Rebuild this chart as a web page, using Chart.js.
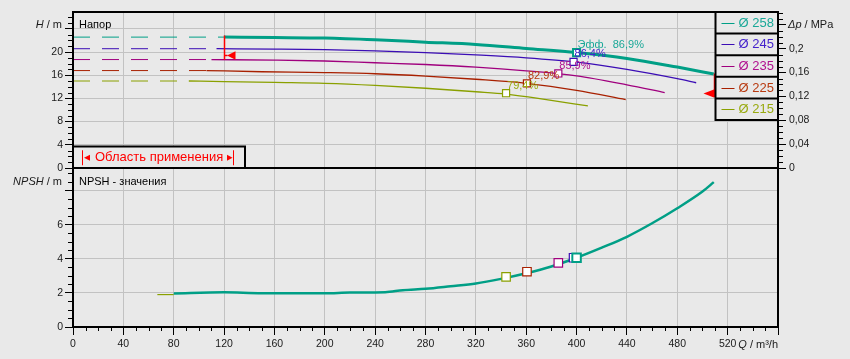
<!DOCTYPE html>
<html><head><meta charset="utf-8">
<script src="https://cdn.jsdelivr.net/npm/chart.js@4/dist/chart.umd.min.js"></script>
<style>
html,body{margin:0;padding:0;background:#e9e9e9;}
#wrap{position:relative;width:850px;height:359px;background:#e9e9e9;overflow:hidden;}
#top{position:absolute;left:0;top:0;}
#bot{position:absolute;left:0;top:168px;}
</style></head><body>
<div id="wrap"><canvas id="top" width="850" height="180"></canvas><canvas id="bot" width="850" height="191"></canvas></div>
<script>
// ---------- DATA ----------
const diameters = ['Ø 258', 'Ø 245', 'Ø 235', 'Ø 225', 'Ø 215'];
const q258 = [120, 160, 200, 240, 280, 320, 360, 400, 440, 480, 509];
const h258 = [22.57, 22.5, 22.4, 22.1, 21.7, 21.3, 20.6, 19.9, 18.9, 17.4, 16.2];
const q245 = [114, 160, 200, 240, 280, 320, 360, 400, 440, 480, 495];
const h245 = [20.57, 20.5, 20.4, 20.2, 19.9, 19.5, 19.0, 18.25, 17.0, 15.4, 14.7];
const q235 = [110, 160, 200, 240, 280, 320, 360, 400, 440, 470];
const h235 = [18.7, 18.6, 18.45, 18.15, 17.85, 17.4, 16.75, 15.9, 14.35, 13.0];
const q225 = [106, 150, 200, 240, 280, 320, 360, 400, 439];
const h225 = [16.8, 16.6, 16.45, 16.25, 15.85, 15.3, 14.6, 13.4, 11.8];
const q215 = [92, 120, 160, 200, 240, 280, 320, 344, 376, 409];
const h215 = [15.0, 14.9, 14.75, 14.6, 14.25, 13.75, 13.15, 12.75, 11.8, 10.7];
const effQ = [400, 397.6, 385.5, 360.6, 344];
const effH = [19.9, 18.3, 16.3, 14.6, 12.9];
const effLabels = ['Эфф.  86,9%', '86,4%', '85,9%', '82,9%', '79,4%'];
const effNpsh = [4.06, 4.06, 3.76, 3.24, 2.94];
const npshQ = [80, 120, 150, 200, 220, 248, 262, 280, 300, 320, 340, 360, 380, 400, 420, 440, 460, 480, 500, 509];
const npshV = [1.97, 2.03, 1.98, 1.98, 2.02, 2.04, 2.16, 2.24, 2.39, 2.55, 2.82, 3.15, 3.55, 4.06, 4.65, 5.29, 6.08, 6.96, 7.94, 8.49];
const npsh215Q = [67, 80];
const npsh215V = [1.9, 1.9];
const rangeQ = [120, 509];
const hTickLabels = [0, 4, 8, 12, 16, 20];
const pTickLabels = ['0', '0,04', '0,08', '0,12', '0,16', '0,2'];
const npshTickLabels = [0, 2, 4, 6];
const qTickLabels = [0, 40, 80, 120, 160, 200, 240, 280, 320, 360, 400, 440, 480, 520];

// ---------- STYLE ----------
const F = '"Liberation Sans", Arial, sans-serif';
const BG = '#e9e9e9';
const GRID = '#c2c2c2';
const TXT = '#1a1a1a';
const TS = 10.5;
const colors = ['#009f86', '#3b0db5', '#a0007e', '#a82000', '#8aa000'];
const textColors = ['#1aa898', '#4422cc', '#b0108f', '#b83a10', '#99aa10'];
const H_MAX = 26.9, P_MAX = 0.2615, N_MAX = 9.32, Q_MAX = 560;

function pts(qs, vs) { return qs.map((q, i) => ({ x: q, y: vs[i] })); }

function mixed(ctx, parts, x, y, align, size, color) {
  ctx.save(); ctx.fillStyle = color; ctx.textBaseline = 'middle'; ctx.textAlign = 'left';
  const widths = parts.map(p => { ctx.font = (p[1] ? 'italic ' : '') + size + 'px ' + F; return ctx.measureText(p[0]).width; });
  const total = widths.reduce((a, b) => a + b, 0);
  let cx = align === 'right' ? x - total : x;
  parts.forEach((p, i) => { ctx.font = (p[1] ? 'italic ' : '') + size + 'px ' + F; ctx.fillText(p[0], cx, y); cx += widths[i]; });
  ctx.restore();
}

function minorTicks(ctx, scale, step, majorEvery, len, side) {
  const n = Math.floor((scale.max - scale.min) / step + 1e-6);
  ctx.save(); ctx.strokeStyle = '#000'; ctx.lineWidth = 1; ctx.beginPath();
  for (let i = 0; i <= n; i++) {
    if (i % majorEvery === 0) continue;
    const p = Math.round(scale.getPixelForValue(scale.min + i * step)) + 0.5;
    if (side === 'left') { ctx.moveTo(scale.right - len, p); ctx.lineTo(scale.right, p); }
    else if (side === 'right') { ctx.moveTo(scale.left, p); ctx.lineTo(scale.left + len, p); }
    else { ctx.moveTo(p, scale.top); ctx.lineTo(p, scale.top + len); }
  }
  ctx.stroke(); ctx.restore();
}

function frame(chart) {
  const a = chart.chartArea, ctx = chart.ctx;
  ctx.save(); ctx.strokeStyle = '#000'; ctx.lineWidth = 2;
  ctx.strokeRect(a.left, a.top, a.right - a.left, a.bottom - a.top);
  ctx.restore();
}

function tri(ctx, tipX, y, baseX, hh) {
  ctx.beginPath(); ctx.moveTo(tipX, y); ctx.lineTo(baseX, y - hh); ctx.lineTo(baseX, y + hh); ctx.closePath(); ctx.fill();
}

function fixW(w) { return s => { s.width = w; s.paddingTop = 0; s.paddingBottom = 0; s.paddingLeft = 0; s.paddingRight = 0; }; }
function fixH(h) { return s => { s.height = h; s.paddingTop = 0; s.paddingBottom = 0; s.paddingLeft = 0; s.paddingRight = 0; }; }

// ---------- TOP CHART ----------
const series = [
  { q: q258, h: h258, w: 3 },
  { q: q245, h: h245, w: 1.3 },
  { q: q235, h: h235, w: 1.3 },
  { q: q225, h: h225, w: 1.3 },
  { q: q215, h: h215, w: 1.3 }
];
const topSets = [];
effQ.forEach((q, i) => topSets.push({
  xAxisID: 'x', yAxisID: 'yH',
  data: [{ x: q, y: effH[i] }], pointStyle: 'rect', pointRadius: 5, pointHoverRadius: 5,
  borderColor: colors[i], backgroundColor: '#ffffff', borderWidth: i === 0 ? 2 : 1.2, showLine: false
}));
series.forEach((s, i) => {
  topSets.push({ xAxisID: 'x', yAxisID: 'yH', data: pts(s.q, s.h), borderColor: colors[i], borderWidth: s.w, showLine: true, pointRadius: 0, cubicInterpolationMode: 'monotone', fill: false });
  topSets.push({ xAxisID: 'x', yAxisID: 'yH', data: [{ x: 0, y: s.h[0] }, { x: s.q[0], y: s.h[0] }], borderColor: colors[i], borderWidth: 1, borderDash: [17, 12], showLine: true, pointRadius: 0, fill: false });
});

const topPlugin = {
  id: 'topDeco',
  afterDatasetsDraw(chart) {
    const ctx = chart.ctx, a = chart.chartArea, xs = chart.scales.x, ys = chart.scales.yH;
    frame(chart);
    minorTicks(ctx, ys, 1, 4, 5, 'left');
    minorTicks(ctx, chart.scales.yP, 0.01, 4, 5, 'right');
    mixed(ctx, [['H', true], [' / m', false]], a.left - 11, a.top + 12.5, 'right', 11, TXT);
    mixed(ctx, [['Δp', true], [' / MPa', false]], a.right + 10, a.top + 12.5, 'left', 11, TXT);
    mixed(ctx, [['Напор', false]], a.left + 6, a.top + 12.5, 'left', 11, '#000');
    effQ.forEach((q, i) => {
      mixed(ctx, [[effLabels[i], false]], xs.getPixelForValue(q) + 1, ys.getPixelForValue(effH[i]) - 7.5, 'left', 11, textColors[i]);
    });
    ctx.save(); ctx.strokeStyle = '#ff0000'; ctx.fillStyle = '#ff0000'; ctx.lineWidth = 1.5;
    const x0 = Math.round(xs.getPixelForValue(rangeQ[0])) + 0.5;
    ctx.beginPath(); ctx.moveTo(x0, ys.getPixelForValue(22.85)); ctx.lineTo(x0, ys.getPixelForValue(18.65)); ctx.stroke();
    const y0 = ys.getPixelForValue(19.4);
    ctx.beginPath(); ctx.moveTo(x0, y0); ctx.lineTo(x0 + 3, y0); ctx.stroke();
    tri(ctx, x0 + 2.5, y0, x0 + 11, 4.2);
    const x1 = Math.round(xs.getPixelForValue(rangeQ[1])) + 0.5;
    ctx.beginPath(); ctx.moveTo(x1, ys.getPixelForValue(16.3)); ctx.lineTo(x1, ys.getPixelForValue(12.25)); ctx.stroke();
    tri(ctx, x1 - 11, ys.getPixelForValue(12.85), x1, 4.2);
    ctx.restore();
    ctx.save();
    const bx = a.left, by = a.bottom - 21.5, bw = 172, bh = 21.5;
    ctx.fillStyle = BG; ctx.fillRect(bx, by, bw, bh);
    ctx.strokeStyle = '#000'; ctx.lineWidth = 2; ctx.strokeRect(bx, by, bw, bh);
    ctx.strokeStyle = '#ff0000'; ctx.fillStyle = '#ff0000'; ctx.lineWidth = 1;
    const cy = by + bh / 2 + 0.5;
    ctx.beginPath(); ctx.moveTo(bx + 9.5, cy - 7.5); ctx.lineTo(bx + 9.5, cy + 7.5); ctx.stroke();
    tri(ctx, bx + 11, cy, bx + 17, 3);
    ctx.beginPath(); ctx.moveTo(bx + 160.5, cy - 7.5); ctx.lineTo(bx + 160.5, cy + 7.5); ctx.stroke();
    tri(ctx, bx + 159.5, cy, bx + 154, 3);
    ctx.restore();
    mixed(ctx, [['Область применения', false]], bx + 22, cy, 'left', 13, '#ff0000');
    ctx.save();
    const lx = a.right - 62.5, ly = a.top, lw = 62.5, rh = 21.6;
    ctx.fillStyle = BG; ctx.fillRect(lx, ly, lw, rh * 5);
    ctx.strokeStyle = '#000'; ctx.lineWidth = 2;
    ctx.strokeRect(lx, ly, lw, rh * 5);
    for (let i = 1; i < 5; i++) { ctx.beginPath(); ctx.moveTo(lx, ly + rh * i); ctx.lineTo(a.right, ly + rh * i); ctx.stroke(); }
    ctx.lineWidth = 1;
    diameters.forEach((d, i) => {
      const yy = Math.round(ly + rh * (i + 0.5)) + 0.5;
      ctx.strokeStyle = colors[i];
      ctx.beginPath(); ctx.moveTo(lx + 6, yy); ctx.lineTo(lx + 19, yy); ctx.stroke();
      mixed(ctx, [[d, false]], lx + 23, yy, 'left', 13, textColors[i]);
    });
    ctx.restore();
  }
};

new Chart(document.getElementById('top'), {
  type: 'scatter',
  data: { datasets: topSets },
  options: {
    responsive: false, animation: false,
    layout: { autoPadding: false, padding: { top: 12, bottom: 12, left: 0, right: 0 } },
    plugins: { legend: { display: false }, tooltip: { enabled: false } },
    scales: {
      x: {
        type: 'linear', position: 'bottom', min: 0, max: Q_MAX,
        ticks: { display: false, stepSize: 40, autoSkip: false },
        grid: { color: c => (c.tick.value > 0 && c.tick.value < Q_MAX) ? GRID : 'rgba(0,0,0,0)', drawTicks: false, lineWidth: 1 },
        border: { display: false },
        afterFit: fixH(0)
      },
      yH: {
        type: 'linear', position: 'left', min: 0, max: H_MAX,
        ticks: { stepSize: 4, autoSkip: false, padding: 2, color: TXT, font: { family: F, size: TS },
          callback: v => hTickLabels.includes(v) ? String(v) : '' },
        grid: { color: c => (c.tick.value > 0 && c.tick.value % 4 === 0) ? GRID : 'rgba(0,0,0,0)',
          tickColor: c => (c.tick.value % 4 === 0) ? '#000' : 'rgba(0,0,0,0)', tickLength: 8, lineWidth: 1 },
        border: { display: false },
        afterFit: fixW(73)
      },
      yP: {
        type: 'linear', position: 'right', min: 0, max: P_MAX,
        ticks: { stepSize: 0.04, autoSkip: false, padding: 3, color: TXT, font: { family: F, size: TS },
          callback: v => { const r = Math.round(v * 100); return (r % 4 === 0 && r <= 20) ? pTickLabels[r / 4] : ''; } },
        grid: { drawOnChartArea: false, tickColor: c => (Math.round(c.tick.value * 100) % 4 === 0) ? '#000' : 'rgba(0,0,0,0)', tickLength: 8 },
        border: { display: false },
        afterFit: fixW(72)
      }
    }
  },
  plugins: [topPlugin]
});

// ---------- BOTTOM CHART ----------
const botSets = [];
effQ.forEach((q, i) => botSets.push({
  xAxisID: 'x', yAxisID: 'yN',
  data: [{ x: q, y: effNpsh[i] }], pointStyle: 'rect', pointRadius: 6, pointHoverRadius: 6,
  borderColor: colors[i], backgroundColor: '#ffffff', borderWidth: i === 0 ? 2 : 1.2, showLine: false
}));
botSets.push({ xAxisID: 'x', yAxisID: 'yN', data: pts(npshQ, npshV), borderColor: colors[0], borderWidth: 2.5, showLine: true, pointRadius: 0, cubicInterpolationMode: 'monotone', fill: false });
botSets.push({ xAxisID: 'x', yAxisID: 'yN', data: pts(npsh215Q, npsh215V), borderColor: colors[4], borderWidth: 1.2, showLine: true, pointRadius: 0, fill: false });

const botPlugin = {
  id: 'botDeco',
  afterDatasetsDraw(chart) {
    const ctx = chart.ctx, a = chart.chartArea;
    frame(chart);
    minorTicks(ctx, chart.scales.yN, 0.5, 4, 5, 'left');
    minorTicks(ctx, chart.scales.x, 10, 4, 4, 'bottom');
    mixed(ctx, [['NPSH', true], [' / m', false]], a.left - 11, a.top + 13.5, 'right', 11, TXT);
    mixed(ctx, [['NPSH - значения', false]], a.left + 6, a.top + 13.5, 'left', 11, '#000');
    mixed(ctx, [['Q', true], [' / m³/h', false]], a.right, a.bottom + 17.5, 'right', 11, TXT);
  }
};

new Chart(document.getElementById('bot'), {
  type: 'scatter',
  data: { datasets: botSets },
  options: {
    responsive: false, animation: false,
    layout: { autoPadding: false, padding: { top: 0, bottom: 0, left: 0, right: 0 } },
    plugins: { legend: { display: false }, tooltip: { enabled: false } },
    scales: {
      x: {
        type: 'linear', position: 'bottom', min: 0, max: Q_MAX,
        ticks: { stepSize: 40, autoSkip: false, maxRotation: 0, padding: 3, color: TXT, font: { family: F, size: TS },
          callback: v => qTickLabels.includes(v) ? String(v) : '' },
        grid: { color: c => (c.tick.value > 0 && c.tick.value < Q_MAX) ? GRID : 'rgba(0,0,0,0)', tickColor: '#000', tickLength: 8, lineWidth: 1 },
        border: { display: false },
        afterFit: fixH(32)
      },
      yN: {
        type: 'linear', position: 'left', min: 0, max: N_MAX,
        ticks: { stepSize: 2, autoSkip: false, padding: 2, color: TXT, font: { family: F, size: TS },
          callback: v => npshTickLabels.includes(v) ? String(v) : '' },
        grid: { color: c => (c.tick.value > 0 && c.tick.value % 2 === 0) ? GRID : 'rgba(0,0,0,0)',
          tickColor: c => (c.tick.value % 2 === 0) ? '#000' : 'rgba(0,0,0,0)', tickLength: 8, lineWidth: 1 },
        border: { display: false },
        afterFit: fixW(73)
      },
      yR: {
        type: 'linear', position: 'right', min: 0, max: 1,
        ticks: { display: false }, grid: { display: false }, border: { display: false },
        afterFit: fixW(72)
      }
    }
  },
  plugins: [botPlugin]
});
</script>
</body></html>
